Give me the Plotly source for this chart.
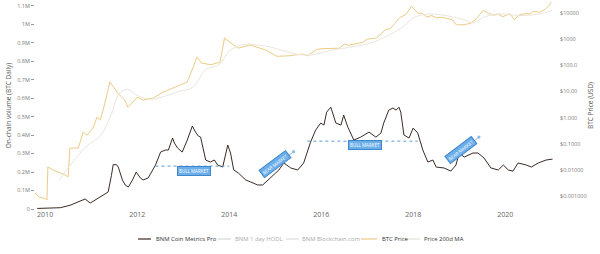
import plotly.graph_objects as go

# ---------------- data ----------------
vol_years = [2009.83, 2010.11, 2010.33, 2010.54, 2010.72, 2010.87, 2010.98, 2011.2, 2011.37, 2011.44,
             2011.48, 2011.55, 2011.59, 2011.68, 2011.74, 2011.81, 2011.9, 2011.98, 2012.07, 2012.13,
             2012.24, 2012.40, 2012.51, 2012.61, 2012.68, 2012.77, 2012.81, 2012.88, 2012.98, 2013.09,
             2013.20, 2013.27, 2013.33, 2013.38, 2013.44, 2013.49, 2013.59, 2013.68, 2013.75, 2013.86,
             2013.92, 2013.97, 2014.03, 2014.10, 2014.20, 2014.36, 2014.47, 2014.62, 2014.73, 2014.90,
             2015.08, 2015.19, 2015.34, 2015.49, 2015.62, 2015.77, 2015.88, 2015.99, 2016.06, 2016.12,
             2016.21, 2016.32, 2016.43, 2016.49, 2016.58, 2016.71, 2016.86, 2017.04, 2017.19, 2017.30,
             2017.36, 2017.47, 2017.56, 2017.63, 2017.69, 2017.73, 2017.80, 2017.91, 2018.00, 2018.10,
             2018.21, 2018.32, 2018.43, 2018.50, 2018.67, 2018.82, 2018.93, 2019.00, 2019.11, 2019.30,
             2019.41, 2019.54, 2019.69, 2019.85, 2019.96, 2020.07, 2020.17, 2020.28, 2020.46, 2020.57,
             2020.72, 2020.89, 2021.03]
vol_coinmetrics = [0.003, 0.005, 0.007, 0.02, 0.038, 0.054, 0.032, 0.065, 0.092, 0.18,
                   0.24, 0.24, 0.227, 0.157, 0.13, 0.119, 0.157, 0.2, 0.168, 0.157,
                   0.168, 0.238, 0.308, 0.319, 0.319, 0.384, 0.357, 0.33, 0.308, 0.373,
                   0.449, 0.416, 0.395, 0.389, 0.319, 0.265, 0.254, 0.265, 0.238, 0.227,
                   0.292, 0.346, 0.303, 0.211, 0.195, 0.157, 0.146, 0.13, 0.13, 0.168,
                   0.211, 0.249, 0.222, 0.211, 0.249, 0.362, 0.427, 0.465, 0.454, 0.524,
                   0.551, 0.465, 0.454, 0.508, 0.443, 0.373, 0.389, 0.416, 0.389, 0.411,
                   0.465, 0.535, 0.546, 0.535, 0.551, 0.524, 0.4, 0.384, 0.438, 0.411,
                   0.319, 0.254, 0.265, 0.227, 0.222, 0.205, 0.238, 0.303, 0.281, 0.303,
                   0.303, 0.276, 0.222, 0.211, 0.238, 0.211, 0.205, 0.249, 0.238, 0.227,
                   0.249, 0.265, 0.27]

# hidden (legend-only) series: rough estimates, not drawn in the reference
hidden_years = [2012.0, 2016.0, 2020.0]
vol_hodl = [0.15, 0.35, 0.25]
vol_blockchain = [0.2, 0.4, 0.3]

price_years = [2009.78, 2009.87, 2010.0, 2010.04, 2010.06, 2010.17, 2010.43, 2010.5, 2010.54, 2010.72,
               2010.83, 2010.91, 2011.04, 2011.13, 2011.2, 2011.26, 2011.41, 2011.45, 2011.58, 2011.73,
               2011.8, 2011.89, 2012.0, 2012.13, 2012.35, 2012.57, 2012.78, 2013.09, 2013.22, 2013.3,
               2013.4, 2013.6, 2013.8, 2013.9, 2014.0, 2014.2, 2014.45, 2014.8, 2015.04, 2015.3,
               2015.6, 2015.7, 2015.9, 2016.0, 2016.4, 2016.5, 2016.6, 2016.9, 2017.0, 2017.2,
               2017.4, 2017.5, 2017.6, 2017.7, 2017.85, 2017.96, 2018.1, 2018.2, 2018.3, 2018.4,
               2018.5, 2018.6, 2018.7, 2018.85, 2018.9, 2018.97, 2019.1, 2019.25, 2019.35, 2019.48,
               2019.52, 2019.6, 2019.75, 2019.85, 2019.95, 2020.1, 2020.2, 2020.3, 2020.45, 2020.55,
               2020.6, 2020.75, 2020.85, 2020.95, 2021.03]
btc_price = [0.0013, 0.0009, 0.0008, 0.0007, 0.013, 0.010, 0.0064, 0.0054, 0.068, 0.068,
             0.28, 0.21, 0.4, 1.05, 0.82, 1.9, 23, 18, 8.5, 4.7,
             2.5, 3.6, 6, 4.7, 5.6, 9.5, 13.5, 23, 87, 208,
             122, 105, 130, 1100, 800, 450, 600, 380, 220, 230,
             270, 230, 400, 430, 450, 650, 580, 750, 1000, 1100,
             2300, 2500, 4000, 6500, 9000, 18000, 10000, 9500, 7000, 8000,
             6500, 6800, 6400, 5500, 4000, 3500, 3600, 4000, 5500, 11000,
             12500, 10500, 8200, 9000, 7200, 9500, 5500, 8400, 9500, 9200,
             11500, 10700, 13000, 19000, 31000]

ma_years = [2010.3, 2010.6, 2010.9, 2011.2, 2011.45, 2011.6, 2011.8, 2012.0, 2012.3, 2012.6,
            2012.9, 2013.2, 2013.5, 2013.8, 2014.0, 2014.3, 2014.6, 2014.9, 2015.2, 2015.5,
            2015.8, 2016.0, 2016.3, 2016.6, 2016.9, 2017.2, 2017.5, 2017.8, 2018.0, 2018.3,
            2018.6, 2018.9, 2019.1, 2019.3, 2019.5, 2019.8, 2020.0, 2020.3, 2020.6, 2020.9, 2021.03]
price_ma = [0.004, 0.02, 0.08, 0.2, 1.5, 8, 12, 7, 5, 6.5,
            10, 14, 70, 110, 350, 620, 600, 500, 350, 260,
            250, 300, 400, 480, 600, 850, 1500, 3200, 6500, 9000,
            8500, 6800, 5500, 4200, 6500, 9000, 9000, 8000, 8500, 10500, 13000]

series_names = ["BNM Coin Metrics Pro", "BNM 1 day HODL", "BNM Blockchain.com", "BTC Price", "Price 200d MA"]
series_colors = ["#3b2a24", "#d6d6d6", "#dcdcdc", "#eccb86", "#e6e1d5"]
legend_text_colors = ["#333", "#aaa", "#aaa", "#333", "#333"]
legend_line_px = [(138, 151), (218, 231), (286, 299), (361, 377), (405, 420)]
legend_text_px = [154, 233, 300, 380, 422]

vol_tickvals = [0, 0.1, 0.2, 0.3, 0.4, 0.5, 0.6, 0.7, 0.8, 0.9, 1.0, 1.1]
vol_ticktext = ["0", "0.1M", "0.2M", "0.3M", "0.4M", "0.5M", "0.6M", "0.7M", "0.8M", "0.9M", "1M", "1.1M"]
price_tickvals = [0.001, 0.01, 0.1, 1, 10, 100, 1000, 10000]
price_ticktext = ["$0.001000", "$0.01000", "$0.1000", "$1.000", "$10.00", "$100.0", "$1000", "$10000"]
year_ticks = [2010, 2012, 2014, 2016, 2018, 2020]

# annotation anchors (data coordinates)
flat_markets = [(2012.4, 2014.0, 0.232, 2013.23, 0.205), (2015.7, 2018.1, 0.367, 2016.96, 0.345)]
rising_markets = [(2014.70, 0.180, 2015.40, 0.310, 2015.0, 0.243), (2018.74, 0.255, 2019.43, 0.389, 2019.04, 0.318)]

# ---------------- figure ----------------
W, H = 600, 254
ML, MR, MT, MB = 35, 41, 2, 45
PW, PH = W - ML - MR, H - MT - MB

fig = go.Figure()
fig.add_trace(go.Scatter(x=vol_years, y=vol_coinmetrics, name=series_names[0], mode="lines",
                         line=dict(color=series_colors[0], width=1), yaxis="y"))
fig.add_trace(go.Scatter(x=hidden_years, y=vol_hodl, name=series_names[1], mode="lines",
                         line=dict(color=series_colors[1], width=1), visible="legendonly"))
fig.add_trace(go.Scatter(x=hidden_years, y=vol_blockchain, name=series_names[2], mode="lines",
                         line=dict(color=series_colors[2], width=1), visible="legendonly"))
fig.add_trace(go.Scatter(x=price_years, y=btc_price, name=series_names[3], mode="lines",
                         line=dict(color=series_colors[3], width=1), yaxis="y2"))
fig.add_trace(go.Scatter(x=ma_years, y=price_ma, name=series_names[4], mode="lines",
                         line=dict(color="#ebe6da", width=1, shape="spline"), yaxis="y2"))

shapes = []
annotations = []
blue_line = "#5b9bd8"
box_fill = "#6aaeea"
for x0, x1, yv, bx, by in flat_markets:
    shapes.append(dict(type="line", xref="x", yref="y", x0=x0, x1=x1, y0=yv, y1=yv,
                       line=dict(color=blue_line, width=1, dash="dot")))
    annotations.append(dict(x=bx, y=by, xref="x", yref="y", text="BULL MARKET", showarrow=False,
                            font=dict(size=4.5, color="white"), bgcolor=box_fill,
                            bordercolor="#3f86cc", borderwidth=1, borderpad=1))
for x0, y0, x1, y1, bx, by in rising_markets:
    annotations.append(dict(x=x1, y=y1, ax=x0, ay=y0, xref="x", yref="y", axref="x", ayref="y",
                            text="", showarrow=True, arrowhead=6, arrowsize=0.8, arrowwidth=1,
                            arrowcolor="#8cbde9"))
    annotations.append(dict(x=bx, y=by, xref="x", yref="y", text="BEAR MARKET", showarrow=False,
                            textangle=-37, font=dict(size=4.5, color="white"), bgcolor=box_fill,
                            bordercolor="#3f86cc", borderwidth=1, borderpad=1))

# manual legend (compact, like the reference)
legend_y = (H - MB - 239) / PH
for name, col, tcol, (lx0, lx1), tx in zip(series_names, series_colors, legend_text_colors,
                                            legend_line_px, legend_text_px):
    shapes.append(dict(type="line", xref="paper", yref="paper",
                       x0=(lx0 - ML) / PW, x1=(lx1 - ML) / PW, y0=legend_y, y1=legend_y,
                       line=dict(color=col, width=1.2)))
    annotations.append(dict(x=(tx - ML) / PW, y=legend_y, xref="paper", yref="paper", text=name,
                            showarrow=False, xanchor="left", yanchor="middle",
                            font=dict(size=5.9, color=tcol)))

fig.update_layout(
    width=W, height=H,
    margin=dict(l=ML, r=MR, t=MT, b=MB),
    paper_bgcolor="white", plot_bgcolor="white",
    font=dict(family="Open Sans, sans-serif", size=6, color="#555"),
    showlegend=False,
    xaxis=dict(range=[2009.78, 2021.17], tickvals=year_ticks, showgrid=False, zeroline=False,
               showline=False, tickfont=dict(size=7, color="#666"), ticks=""),
    yaxis=dict(range=[0, 1.12], tickvals=vol_tickvals, ticktext=vol_ticktext, showgrid=False,
               zeroline=False, ticks="outside", ticklen=3, tickcolor="#999",
               tickfont=dict(size=5.5, color="#777"),
               title=dict(text="On-chain volume (BTC Daily)", font=dict(size=6.5, color="#555"), standoff=4)),
    yaxis2=dict(type="log", range=[-3.497, 4.42], tickvals=price_tickvals, ticktext=price_ticktext,
                overlaying="y", side="right", showgrid=False, zeroline=False, ticks="",
                tickfont=dict(size=5.5, color="#777"),
                title=dict(text="BTC Price (USD)", font=dict(size=6.5, color="#555"), standoff=2)),
    shapes=shapes, annotations=annotations,
)

fig.write_html("out.html")
